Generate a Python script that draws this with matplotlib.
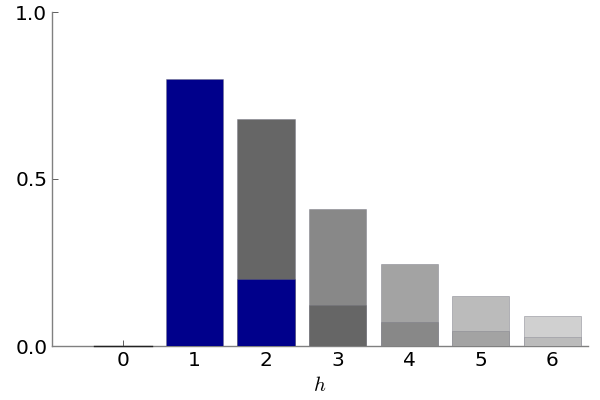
import numpy as np
import matplotlib.pyplot as plt

plt.rcParams["mathtext.fontset"] = "cm"

h = [0, 1, 2, 3, 4, 5, 6]
upper = [0.0, 0.80, 0.68, 0.41, 0.245, 0.15, 0.09]
lower = [0.0, 0.0, 0.20, 0.123, 0.072, 0.045, 0.027]
upper_colors = ["#00008b", "#00008b", "#666666", "#888888", "#a3a3a3", "#bbbbbb", "#d0d0d0"]
lower_colors = ["#00008b", "#00008b", "#00008b", "#666666", "#888888", "#a3a3a3", "#bbbbbb"]

fig, ax = plt.subplots(figsize=(6, 4), dpi=100)
fig.subplots_adjust(left=0.087, right=0.98, bottom=0.135, top=0.97)

edge = (0.45, 0.45, 0.5, 0.6)
ax.bar(h, upper, width=0.8, color=upper_colors, edgecolor=edge, linewidth=0.5,
       zorder=3)
ax.bar(h, lower, width=0.8, color=lower_colors, edgecolor=edge, linewidth=0.4,
       zorder=3)
# the empty bar at h = 0 shows up as a dark line on the axis
ax.plot([-0.4, 0.4], [0, 0], color="#222222", linewidth=1.0, zorder=4, clip_on=False)

ax.set_xlim(-0.99, 6.5)
ax.set_ylim(0, 1.0)
ax.set_xticks(h)
ax.set_yticks([0.0, 0.5, 1.0])
ax.set_yticklabels(["0.0", "0.5", "1.0"])
ax.tick_params(direction="in", length=4, width=0.6, labelsize=14.5, color="#444444")
for side in ["top", "right"]:
    ax.spines[side].set_visible(False)
for side in ["left", "bottom"]:
    ax.spines[side].set_color("#808080")
    ax.spines[side].set_linewidth(1.0)
ax.set_xlabel("$h$", fontsize=15, labelpad=4)

fig.savefig("out.png")
